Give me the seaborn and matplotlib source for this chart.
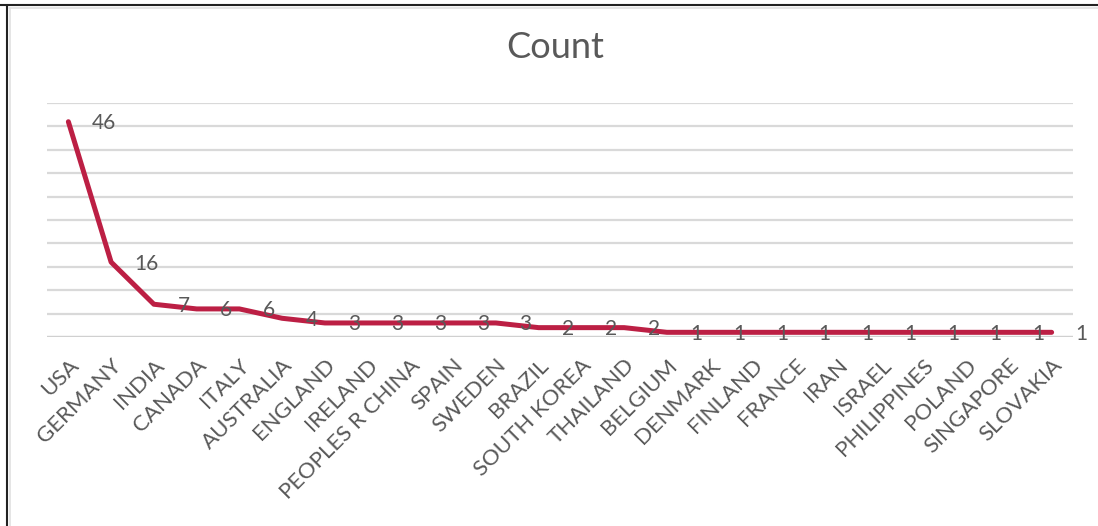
import matplotlib
matplotlib.use("Agg")
import matplotlib.pyplot as plt
from matplotlib.lines import Line2D
import seaborn as sns
import pandas as pd

countries = ["USA", "GERMANY", "INDIA", "CANADA", "ITALY", "AUSTRALIA", "ENGLAND",
             "IRELAND", "PEOPLES R CHINA", "SPAIN", "SWEDEN", "BRAZIL", "SOUTH KOREA",
             "THAILAND", "BELGIUM", "DENMARK", "FINLAND", "FRANCE", "IRAN", "ISRAEL",
             "PHILIPPINES", "POLAND", "SINGAPORE", "SLOVAKIA"]
counts = [46, 16, 7, 6, 6, 4, 3, 3, 3, 3, 3, 2, 2, 2, 1, 1, 1, 1, 1, 1, 1, 1, 1, 1]

df = pd.DataFrame({"country": countries, "count": counts})
df["pos"] = range(len(df))

sns.set_style("white")
plt.rcParams["font.family"] = ["Lato", "DejaVu Sans"]

W, H = 1098, 526
fig = plt.figure(figsize=(W / 100, H / 100), dpi=100)
ax = fig.add_axes([47 / W, (H - 337) / H, (1073 - 47) / W, (337 - 103) / H])

line_color = "#BC1F44"
text_color = "#595959"

sns.lineplot(data=df, x="pos", y="count", ax=ax, color=line_color,
             linewidth=3.6, solid_capstyle="round", solid_joinstyle="round", zorder=3)

ax.set_xlim(-0.5, len(df) - 0.5)
ax.set_ylim(0, 50)
ax.set_yticks(range(0, 51, 5))
ax.set_yticklabels([])
ax.tick_params(axis="y", length=0)
ax.grid(axis="y", color="#D9D9D9", linewidth=1.6)
ax.grid(axis="x", visible=False)
for s in ax.spines.values():
    s.set_visible(False)
ax.axhline(0, color="#D0D0D0", linewidth=1.6, zorder=2)

ax.set_xticks(df["pos"])
ax.set_xticklabels(df["country"], rotation=45, ha="right", rotation_mode="anchor",
                   fontsize=16, color=text_color)
ax.tick_params(axis="x", length=0, pad=13)
ax.set_xlabel("")
ax.set_ylabel("")

# value labels to the right of each point
for p, v in zip(df["pos"], df["count"]):
    ax.annotate(str(v), (p, v), xytext=(17, -1), textcoords="offset points",
                ha="left", va="center", fontsize=15, color=text_color, zorder=4)

fig.text(555 / W, 1 - 48 / H, "Count", ha="center", va="center",
         fontsize=26, color=text_color)

# chart-area frame on the top and left edges
fig.add_artist(Line2D([0, 1], [1 - 5 / H, 1 - 5 / H], color="#222222", linewidth=1.5,
                      transform=fig.transFigure))
fig.add_artist(Line2D([7 / W, 7 / W], [0, 1 - 5 / H], color="#222222", linewidth=1.5,
                      transform=fig.transFigure))
fig.add_artist(Line2D([9 / W, 1], [1 - 7.5 / H, 1 - 7.5 / H], color="#E0E0E0", linewidth=1.2,
                      transform=fig.transFigure))
fig.add_artist(Line2D([9.5 / W, 9.5 / W], [0, 1 - 7.5 / H], color="#E0E0E0", linewidth=1.2,
                      transform=fig.transFigure))

fig.savefig("out.png", dpi=100, facecolor="white")
